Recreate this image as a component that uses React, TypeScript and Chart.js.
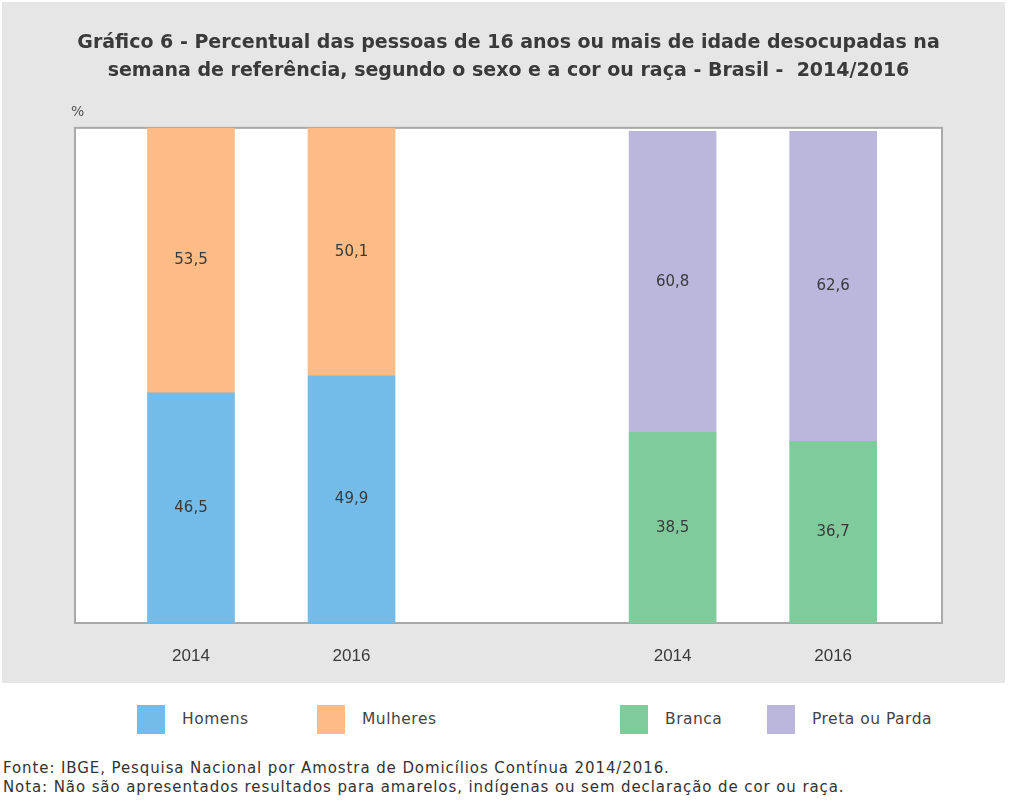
import React, { useEffect, useRef } from 'react';
import { Chart, registerables } from 'chart.js';

Chart.register(...registerables);

const titleLines = [
  'Gráfico 6 - Percentual das pessoas de 16 anos ou mais de idade desocupadas na',
  'semana de referência, segundo o sexo e a cor ou raça - Brasil -  2014/2016',
];
const yUnit = '%';
const categories = ['2014', '2016', '2014', '2016'];
// category slot index of each bar (slot 2 is the empty gap between the two groups)
const slots = [0, 1, 3, 4];
const homens = [46.5, 49.9];
const mulheres = [53.5, 50.1];
const branca = [38.5, 36.7];
const pretaParda = [60.8, 62.6];
const seriesNames = ['Homens', 'Mulheres', 'Branca', 'Preta ou Parda'];
const sourceLines = [
  'Fonte: IBGE, Pesquisa Nacional por Amostra de Domicílios Contínua 2014/2016.',
  'Nota: Não são apresentados resultados para amarelos, indígenas ou sem declaração de cor ou raça.',
];

const COLORS = ['#73bbe9', '#fdbc85', '#80cb9c', '#bab6dc'];
const FONT = '"Liberation Sans", Arial, sans-serif';
const WIDE = '"DejaVu Sans", Verdana, sans-serif';
const TEXT = '#3a3a3a';

const frame = {
  id: 'frame',
  beforeDatasetsDraw(chart: any) {
    const { ctx, chartArea: a } = chart;
    ctx.save();
    ctx.fillStyle = '#ffffff';
    ctx.fillRect(a.left, a.top, a.right - a.left, a.bottom - a.top);
    ctx.strokeStyle = '#a9a9a9';
    ctx.lineWidth = 2;
    ctx.strokeRect(a.left, a.top, a.right - a.left, a.bottom - a.top);
    ctx.restore();
  },
};

const valueLabels = {
  id: 'valueLabels',
  afterDatasetsDraw(chart: any) {
    const { ctx } = chart;
    ctx.save();
    ctx.font = `15px ${WIDE}`;
    ctx.fillStyle = TEXT;
    ctx.textAlign = 'center';
    ctx.textBaseline = 'middle';
    chart.data.datasets.forEach((ds: any, di: number) => {
      const meta = chart.getDatasetMeta(di);
      meta.data.forEach((el: any, i: number) => {
        const p = el.getProps(['x', 'y', 'base'], true);
        const v = ds.data[i].y as number;
        ctx.fillText(v.toFixed(1).replace('.', ','), p.x, (p.y + p.base) / 2);
      });
    });
    ctx.restore();
  },
};

function pts(values: number[], offset: number) {
  return values.map((v, i) => ({ x: slots[i + offset], y: v }));
}

export default function App() {
  const ref = useRef<HTMLCanvasElement>(null);

  useEffect(() => {
    document.body.style.margin = '0';
    const chart = new Chart(ref.current as HTMLCanvasElement, {
      type: 'bar',
      data: {
        datasets: [
          { label: seriesNames[0], data: pts(homens, 0), backgroundColor: COLORS[0], stack: 's' },
          { label: seriesNames[1], data: pts(mulheres, 0), backgroundColor: COLORS[1], stack: 's' },
          { label: seriesNames[2], data: pts(branca, 2), backgroundColor: COLORS[2], stack: 's' },
          { label: seriesNames[3], data: pts(pretaParda, 2), backgroundColor: COLORS[3], stack: 's' },
        ] as any,
      },
      options: {
        responsive: false,
        animation: false,
        layout: { padding: { left: 73, right: 63, top: 0, bottom: 0 } },
        datasets: { bar: { barThickness: 87, borderWidth: 0 } } as any,
        scales: {
          x: {
            type: 'linear',
            offset: false,
            stacked: true,
            min: -0.7225,
            max: 4.678,
            grid: { display: false, drawTicks: false, offset: false },
            border: { display: false },
            afterBuildTicks: (scale: any) => {
              scale.ticks = slots.map((v) => ({ value: v }));
            },
            afterFit: (scale: any) => {
              scale.height = 60;
            },
            ticks: {
              padding: 23,
              color: TEXT,
              font: { family: FONT, size: 17 },
              callback: (value: any) => {
                const idx = slots.indexOf(Number(value));
                return idx >= 0 ? categories[idx] : '';
              },
            },
          },
          y: {
            display: false,
            stacked: true,
            min: 0,
            max: 100,
          },
        },
        plugins: {
          legend: { display: false },
          tooltip: { enabled: false },
          title: {
            display: true,
            text: titleLines,
            color: TEXT,
            font: { family: WIDE, size: 19, weight: 'bold', lineHeight: 1.47 },
            padding: { top: 27, bottom: 43 },
          },
        },
      },
      plugins: [frame, valueLabels],
    });
    return () => chart.destroy();
  }, []);

  const legendItems = [
    { box: 137, text: 182 },
    { box: 317, text: 362 },
    { box: 620, text: 665 },
    { box: 767, text: 812 },
  ];

  return (
    <div style={{ position: 'relative', width: 1013, height: 804, background: '#ffffff', fontFamily: WIDE, color: TEXT }}>
      <div style={{ position: 'absolute', left: 2, top: 2, width: 1003, height: 681, background: '#e6e6e6' }}>
        <canvas ref={ref} width={1003} height={681} style={{ display: 'block' }} />
        <span style={{ position: 'absolute', left: 69, top: 101, fontSize: 14, color: '#555' }}>{yUnit}</span>
      </div>
      {legendItems.map((it, i) => (
        <React.Fragment key={i}>
          <div style={{ position: 'absolute', left: it.box, top: 705, width: 28, height: 29, background: COLORS[i] }} />
          <div style={{ position: 'absolute', left: it.text, top: 709, fontSize: 15.5, lineHeight: '20px', letterSpacing: '0.5px', color: '#444', whiteSpace: 'nowrap' }}>
            {seriesNames[i]}
          </div>
        </React.Fragment>
      ))}
      {sourceLines.map((line, i) => (
        <div key={i} style={{ position: 'absolute', left: 3, top: 759 + i * 19, fontSize: 15, lineHeight: '19px', letterSpacing: '0.9px', color: '#333', whiteSpace: 'nowrap' }}>
          {line}
        </div>
      ))}
    </div>
  );
}
